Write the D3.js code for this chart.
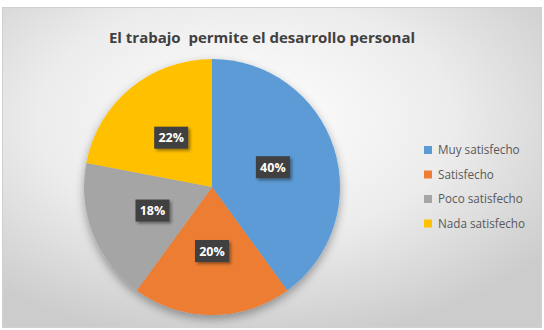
<!DOCTYPE html>
<html><head><meta charset="utf-8">
<script src="https://cdn.jsdelivr.net/npm/d3@7"></script>
<style>body{margin:0;background:#fff}svg{display:block}</style>
</head><body>
<script>
const categories = ["Muy satisfecho","Satisfecho","Poco satisfecho","Nada satisfecho"];
const values = [40,20,18,22];
const colors = ["#5B9BD5","#ED7D31","#A5A5A5","#FFC000"];
const title = "El trabajo  permite el desarrollo personal";

const W=544,H=330;
const svg=d3.select("body").append("svg").attr("width",W).attr("height",H);
const defs=svg.append("defs");
const bg=defs.append("radialGradient").attr("id","bg").attr("cx","45%").attr("cy","35%").attr("r","70%");
bg.append("stop").attr("offset","0%").attr("stop-color","#ffffff");
bg.append("stop").attr("offset","55%").attr("stop-color","#ececec");
bg.append("stop").attr("offset","100%").attr("stop-color","#cccccc");
const sh=defs.append("filter").attr("id","sh").attr("x","-30%").attr("y","-30%").attr("width","160%").attr("height","160%");
sh.append("feDropShadow").attr("dx",0).attr("dy",4).attr("stdDeviation",5).attr("flood-color","#000").attr("flood-opacity",0.35);
const sh2=defs.append("filter").attr("id","sh2").attr("x","-30%").attr("y","-30%").attr("width","160%").attr("height","160%");
sh2.append("feDropShadow").attr("dx",2).attr("dy",2).attr("stdDeviation",1.5).attr("flood-color","#000").attr("flood-opacity",0.4);

svg.append("rect").attr("x",2.5).attr("y",7.5).attr("width",539).attr("height",320)
  .attr("fill","url(#bg)").attr("stroke","#d0d0d0").attr("stroke-width",1);

svg.append("text").attr("x",262).attr("y",43).attr("text-anchor","middle")
  .style("white-space","pre").attr("xml:space","preserve")
  .attr("font-family","'Open Sans', 'Noto Sans', sans-serif").attr("font-weight","bold")
  .attr("font-size",15).attr("fill","#404040").text(title);

const cx=212,cy=187,R=128;
const pie=d3.pie().sort(null).value(d=>d);
const arcs=pie(values);
const arc=d3.arc().innerRadius(0).outerRadius(R);
const g=svg.append("g").attr("transform",`translate(${cx},${cy})`);
g.append("g").attr("filter","url(#sh)").selectAll("path").data(arcs).join("path")
  .attr("d",arc).attr("fill",(d,i)=>colors[i]);

const lab=g.selectAll("g.lab").data(arcs).join("g").attr("class","lab")
  .attr("transform",d=>`translate(${arc.centroid(d)})`);
lab.append("rect").attr("x",-17).attr("y",-11).attr("width",34).attr("height",22)
  .attr("fill","#404040").attr("filter","url(#sh2)");
lab.append("text").attr("text-anchor","middle").attr("dy","0.36em")
  .attr("font-family","'Open Sans', 'Noto Sans', sans-serif").attr("font-weight","bold")
  .attr("font-size",12.5).attr("fill","#fff").text((d,i)=>values[i]+"%");

const lg=svg.append("g").attr("transform","translate(424,150)");
const rows=lg.selectAll("g").data(categories).join("g").attr("transform",(d,i)=>`translate(0,${i*24.5})`);
rows.append("rect").attr("x",0).attr("y",-4).attr("width",8).attr("height",8).attr("fill",(d,i)=>colors[i]);
rows.append("text").attr("x",14).attr("dy","0.35em")
  .attr("font-family","'Open Sans', 'Noto Sans', sans-serif").attr("font-size",11.7)
  .attr("fill","#595959").text(d=>d);
</script>
</body></html>
